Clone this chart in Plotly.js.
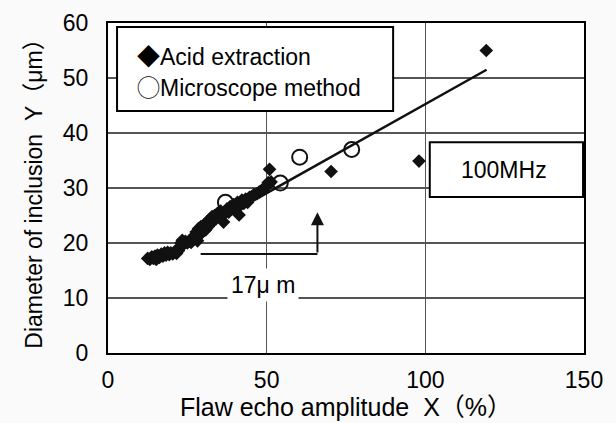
<!DOCTYPE html>
<html>
<head>
<meta charset="utf-8">
<script src="https://cdn.plot.ly/plotly-3.0.1.min.js"></script>
<style>html,body{margin:0;padding:0;background:#fafafa;}</style>
</head>
<body>
<div id="chart" style="width:616px;height:423px;"></div>
<script>
// Acid extraction (filled diamonds)
const acidX = [12.5,13.2,13.8,14.3,14.8,15.2,15.6,16.2,16.8,17.3,17.8,18.3,18.8,19.3,19.8,20.4,21.0,21.6,22.2,
  22.6,23.0,23.4,23.9,24.4,25.0,25.6,26.2,26.8,
  27.3,27.8,28.2,28.5,28.9,29.3,29.6,30.0,30.4,30.8,31.2,31.6,32.0,32.4,32.8,
  33.2,33.6,34.0,34.5,35.0,35.5,36.0,36.4,37.0,37.5,38.0,38.5,
  39.0,39.6,40.2,40.8,41.3,41.6,42.2,42.8,43.4,44.0,44.6,45.2,46.0,47.0,47.7,48.5,49.3,50.0,50.5,51.4,50.9,
  70.3,98.0,119.2];
const acidY = [17.2,17.0,17.5,17.2,17.6,17.0,17.8,17.4,18.0,17.6,18.2,17.8,18.3,17.9,18.2,18.0,18.4,18.1,18.6,
  19.3,20.0,20.5,19.8,20.3,20.0,20.4,20.1,20.8,
  21.4,22.0,20.4,22.6,21.5,23.0,21.9,22.6,23.4,22.4,23.8,23.0,24.3,23.5,24.8,
  24.2,25.0,24.4,25.4,24.8,25.8,25.2,23.8,25.5,26.2,25.6,26.6,
  26.2,27.0,26.5,27.4,25.1,26.8,27.8,27.2,28.0,27.4,28.3,28.4,28.8,29.0,29.3,29.6,30.0,30.3,31.0,31.1,33.4,
  33.0,34.9,55.0];
// Microscope method (open circles)
const microX = [37.0, 54.3, 60.4, 76.8];
const microY = [27.4, 30.9, 35.6, 37.0];
// Regression line end points
const fitX = [30.0, 119.3];
const fitY = [22.6, 51.5];
// Axis ticks
const xTicks = [0, 50, 100, 150];
const yTicks = [0, 10, 20, 30, 40, 50, 60];

const FONT = '"Liberation Sans", Arial, "Noto Sans CJK JP", sans-serif';
const CJK = '"Noto Sans CJK JP"';
const ink = '#000000';

const traces = [
  {x: acidX, y: acidY, type: 'scatter', mode: 'markers', name: 'Acid extraction',
   marker: {symbol: 'diamond', size: 10.5, color: '#111'}},
  {x: microX, y: microY, type: 'scatter', mode: 'markers', name: 'Microscope method',
   marker: {symbol: 'circle-open', size: 15, color: '#111', line: {width: 2, color: '#111'}}},
  {x: fitX, y: fitY, type: 'scatter', mode: 'lines', name: 'fit',
   line: {color: '#111', width: 2.5}}
];

const layout = {
  width: 616, height: 423,
  margin: {l: 108, r: 32, t: 23, b: 70},
  paper_bgcolor: '#fafafa', plot_bgcolor: '#ffffff',
  showlegend: false,
  font: {family: FONT, color: ink, size: 23},
  xaxis: {
    range: [0, 150], tickvals: xTicks, ticktext: xTicks.map(String),
    showgrid: true, gridcolor: '#555', gridwidth: 1.5, zeroline: false,
    showline: true, linecolor: '#000', linewidth: 2, mirror: true,
    ticks: '', ticklabelstandoff: 5,
    tickfont: {family: FONT, size: 23, color: ink},
    title: {text: 'Flaw echo amplitude\u00a0\u00a0X<span style="font-family:' + CJK + '">（%）</span>',
            font: {family: FONT, size: 25, color: ink}, standoff: 7}
  },
  yaxis: {
    range: [0, 60], tickvals: yTicks, ticktext: yTicks.map(String),
    showgrid: true, gridcolor: '#555', gridwidth: 1.5, zeroline: false,
    showline: true, linecolor: '#000', linewidth: 2, mirror: true,
    ticks: '', ticklabelstandoff: 13,
    tickfont: {family: FONT, size: 23, color: ink},
    title: {text: 'Diameter of inclusion\u00a0\u00a0Y<span style="font-family:' + CJK + '">（μm）</span>',
            font: {family: FONT, size: 23, color: ink}, standoff: 14}
  },
  shapes: [
    {type: 'rect', xref: 'paper', yref: 'paper', x0: 0.019, x1: 0.599, y0: 0.733, y1: 0.988,
     fillcolor: '#ffffff', line: {color: '#000', width: 2}, layer: 'above'},
    {type: 'rect', xref: 'paper', yref: 'paper', x0: 0.676, x1: 0.998, y0: 0.473, y1: 0.639,
     fillcolor: '#ffffff', line: {color: '#000', width: 2}, layer: 'above'},
    {type: 'line', xref: 'x', yref: 'y', x0: 29.2, x1: 66, y0: 18, y1: 18,
     line: {color: '#111', width: 2}, layer: 'above'}
  ],
  annotations: [
    {xref: 'paper', yref: 'paper', x: 0.057, y: 0.897, xanchor: 'left', yanchor: 'middle', showarrow: false,
     text: '<span style="font-family:' + CJK + '">◆</span>Acid extraction', font: {family: FONT, size: 23, color: ink}},
    {xref: 'paper', yref: 'paper', x: 0.057, y: 0.804, xanchor: 'left', yanchor: 'middle', showarrow: false,
     text: '<span style="font-family:' + CJK + '">◯</span>Microscope method', font: {family: FONT, size: 23, color: ink}},
    {xref: 'paper', yref: 'paper', x: 0.832, y: 0.555, xanchor: 'center', yanchor: 'middle', showarrow: false,
     text: '100MHz', font: {family: FONT, size: 23, color: ink}},
    {xref: 'x', yref: 'y', x: 48.8, y: 12.4, xanchor: 'center', yanchor: 'middle', showarrow: false,
     text: '17μ m', bgcolor: '#ffffff', borderpad: 3, font: {family: FONT, size: 23, color: ink}},
    {xref: 'x', yref: 'y', x: 66, y: 25.6, axref: 'x', ayref: 'y', ax: 66, ay: 18, text: '',
     showarrow: true, arrowhead: 2, arrowsize: 1.3, arrowwidth: 2, arrowcolor: '#111'}
  ]
};

Plotly.newPlot('chart', traces, layout, {staticPlot: true, displayModeBar: false});
</script>
</body>
</html>
